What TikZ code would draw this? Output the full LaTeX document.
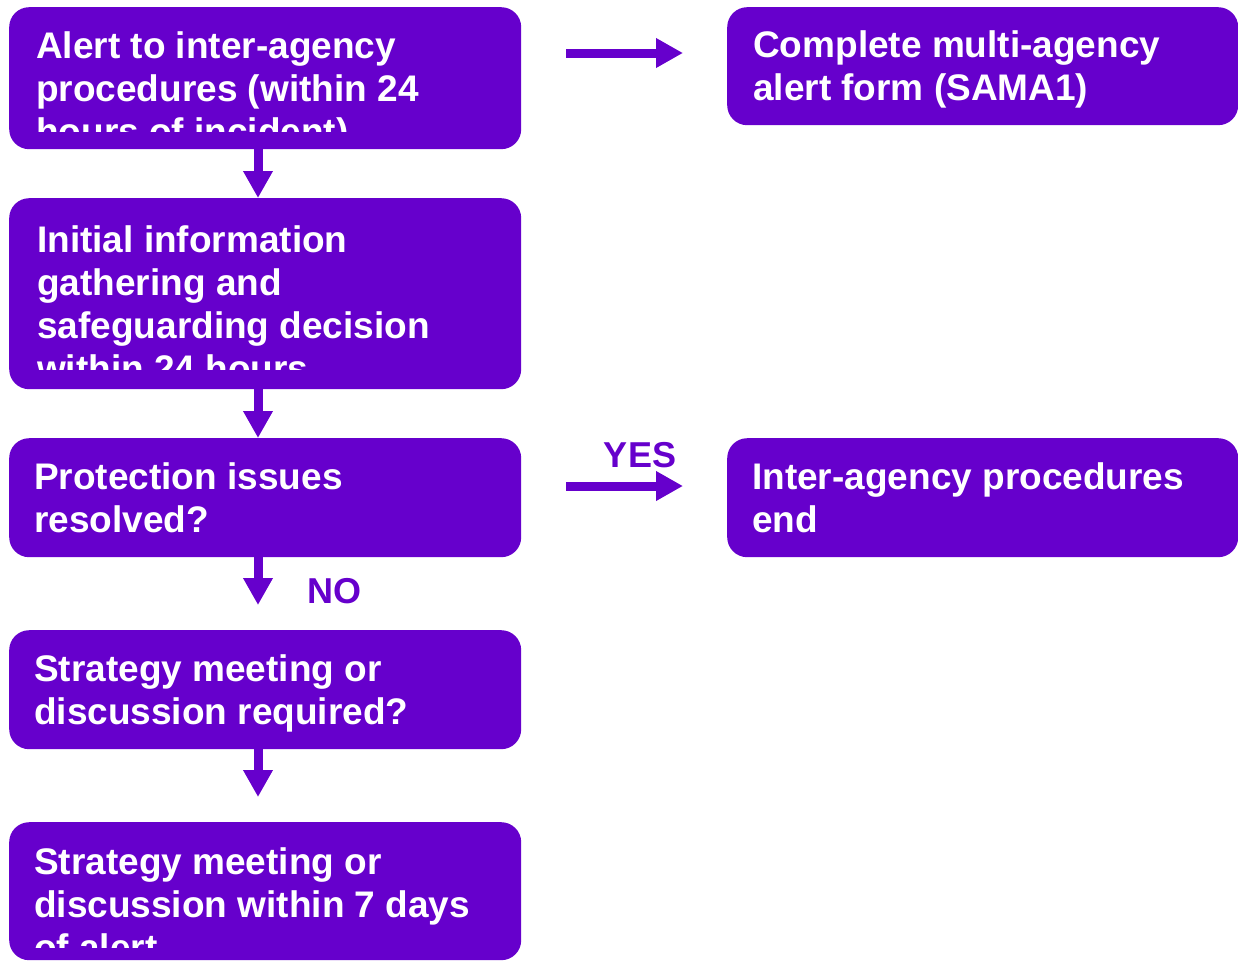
\documentclass[tikz,border=0pt]{standalone}
\usepackage{fontspec}
\setmainfont{Liberation Sans}
\usepackage{tikz}
\usetikzlibrary{arrows.meta}

\definecolor{boxpurple}{HTML}{6600CC}

\tikzset{
  box/.style={fill=boxpurple, rounded corners=20pt, inner sep=0pt, anchor=north west},
  boxtext/.style={text=white, anchor=north west, inner sep=0pt, align=left,
    font=\bfseries\fontsize{37}{43}\selectfont},
  flowarrow/.style={boxpurple, line width=9pt, -{Triangle[length=27pt,width=28pt]}},
  answer/.style={text=boxpurple, inner sep=0pt, font=\bfseries\fontsize{36}{42}\selectfont}
}

\begin{document}
\begin{tikzpicture}[x=1pt,y=-1pt]
\useasboundingbox (0,0) rectangle (1238,961);

% left column
\node[box, minimum width=512pt, minimum height=142pt] (alert) at (9,7) {};
\node[box, minimum width=512pt, minimum height=191pt] (gather) at (9,198) {};
\node[box, minimum width=512pt, minimum height=119pt] (resolved) at (9,438) {};
\node[box, minimum width=512pt, minimum height=119pt] (required) at (9,630) {};
\node[box, minimum width=512pt, minimum height=138pt] (within) at (9,822) {};

% right column
\node[box, minimum width=511pt, minimum height=118pt] (sama) at (727,7) {};
\node[box, minimum width=511pt, minimum height=119pt] (procend) at (727,438) {};

% texts, cut off at the bottom of each box
\begin{scope}
\clip (9,7) rectangle (521,131);
\node[boxtext] (alerttext) at (36,28) {\strut Alert to inter-agency\\procedures (within 24\\hours of incident)};
\end{scope}
\begin{scope}
\clip (9,198) rectangle (521,369);
\node[boxtext] (gathertext) at (37,222) {\strut Initial information\\gathering and\\safeguarding decision\\within 24 hours};
\end{scope}
\node[boxtext] (resolvedtext) at (34,459) {\strut Protection issues\\resolved?};
\node[boxtext] (requiredtext) at (34,651) {\strut Strategy meeting or\\discussion required?};
\begin{scope}
\clip (9,822) rectangle (521,947);
\node[boxtext] (withintext) at (34,844) {\strut Strategy meeting or\\discussion within 7 days\\of alert};
\end{scope}
\node[boxtext] (desc) at (753,27) {\strut Complete multi-agency\\alert form (SAMA1)};
\node[boxtext] (proctext) at (752,459) {\strut Inter-agency procedures\\end};

% arrows
\draw[flowarrow] (alert.south -| 258,0) -- (gather.north -| 258,0);
\draw[flowarrow] (gather.south -| 258,0) -- (resolved.north -| 258,0);
\draw[flowarrow, shorten >=25pt] (resolved.south -| 258,0) -- (required.north -| 258,0);
\draw[flowarrow, shorten >=25pt] (required.south -| 258,0) -- (within.north -| 258,0);
\draw[flowarrow, shorten <=45pt, shorten >=44pt] (alert.east |- 0,53) -- (sama.west |- 0,53);
\draw[flowarrow, shorten <=45pt, shorten >=44pt] (resolved.east |- 0,486) -- (procend.west |- 0,486);

\node[answer, anchor=base] (yes) at (640,467) {YES};
\node[answer, anchor=base west] (no) at (307,603) {NO};
\end{tikzpicture}
\end{document}
